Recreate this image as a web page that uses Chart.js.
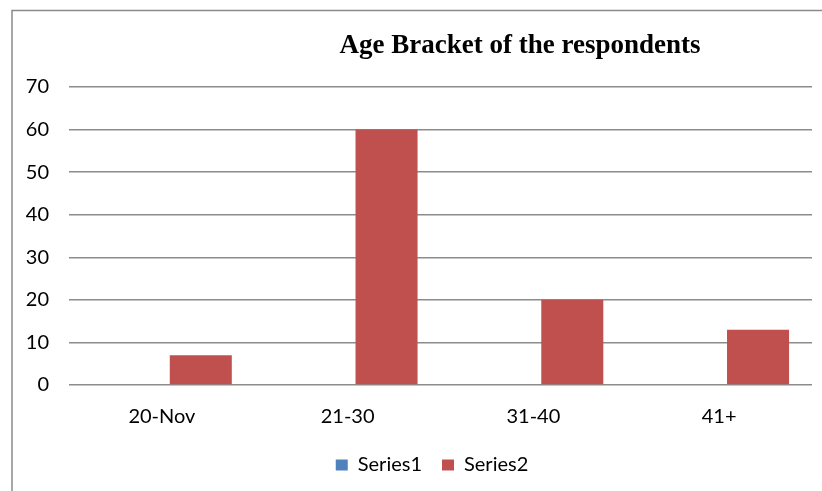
<!DOCTYPE html>
<html>
<head>
<meta charset="utf-8">
<script src="https://cdn.jsdelivr.net/npm/chart.js@4"></script>
<style>
  html, body { margin: 0; padding: 0; background: #ffffff; }
  canvas { display: block; }
</style>
</head>
<body>
<canvas id="c" width="822" height="491"></canvas>
<script>
const titleText = "Age Bracket of the respondents";
const categories = ["20-Nov", "21-30", "31-40", "41+"];
const series1 = [0, 0, 0, 0];
const series2 = [7, 60, 20, 13];
const seriesNames = ["Series1", "Series2"];
const yTicks = [0, 10, 20, 30, 40, 50, 60, 70];

const frameAndTitle = {
  id: 'frameAndTitle',
  afterLayout(chart) {
    if (chart.legend) { chart.legend.left += 52; }
  },
  beforeDraw(chart) {
    const ctx = chart.ctx;
    ctx.save();
    ctx.fillStyle = '#ffffff';
    ctx.fillRect(0, 0, chart.width, chart.height);
    ctx.strokeStyle = '#8a8a8a';
    ctx.lineWidth = 1.5;
    ctx.beginPath();
    ctx.moveTo(12, chart.height);
    ctx.lineTo(12, 10.5);
    ctx.lineTo(chart.width, 10.5);
    ctx.stroke();
    ctx.restore();
  },
  afterDraw(chart) {
    const ctx = chart.ctx;
    ctx.save();
    ctx.fillStyle = '#000000';
    ctx.font = 'bold 27px "Liberation Serif", "Times New Roman", serif';
    ctx.textAlign = 'center';
    ctx.textBaseline = 'alphabetic';
    ctx.fillText(titleText, 520, 53);
    ctx.restore();
  }
};

new Chart(document.getElementById('c'), {
  type: 'bar',
  data: {
    labels: categories,
    datasets: [
      { label: seriesNames[0], data: series1, backgroundColor: 'rgb(79,129,189)', borderWidth: 0 },
      { label: seriesNames[1], data: series2, backgroundColor: 'rgb(192,80,77)', borderWidth: 0 }
    ]
  },
  options: {
    responsive: false,
    animation: false,
    devicePixelRatio: 1,
    categoryPercentage: 0.838,
    barPercentage: 0.797,
    layout: { padding: { top: 87, right: 10, bottom: 6, left: 0 } },
    plugins: {
      title: { display: false },
      tooltip: { enabled: false },
      legend: {
        position: 'bottom',
        labels: {
          boxWidth: 12,
          boxHeight: 11,
          padding: 20,
          color: '#000000',
          font: { family: 'Lato', size: 20 }
        }
      }
    },
    scales: {
      x: {
        grid: { display: false },
        border: { display: false },
        ticks: { color: '#000000', padding: 12, font: { family: 'Lato', size: 20 } },
        afterFit(s) { s.height = 50; }
      },
      y: {
        min: 0,
        max: 70,
        afterBuildTicks(s) { s.ticks = yTicks.map(v => ({ value: v })); },
        grid: { color: '#8c8c8c', lineWidth: 1.5, drawTicks: false },
        border: { display: false },
        ticks: { color: '#000000', padding: 20, font: { family: 'Lato', size: 20 } },
        afterFit(s) { s.width = 69; }
      }
    }
  },
  plugins: [frameAndTitle]
});
</script>
</body>
</html>
